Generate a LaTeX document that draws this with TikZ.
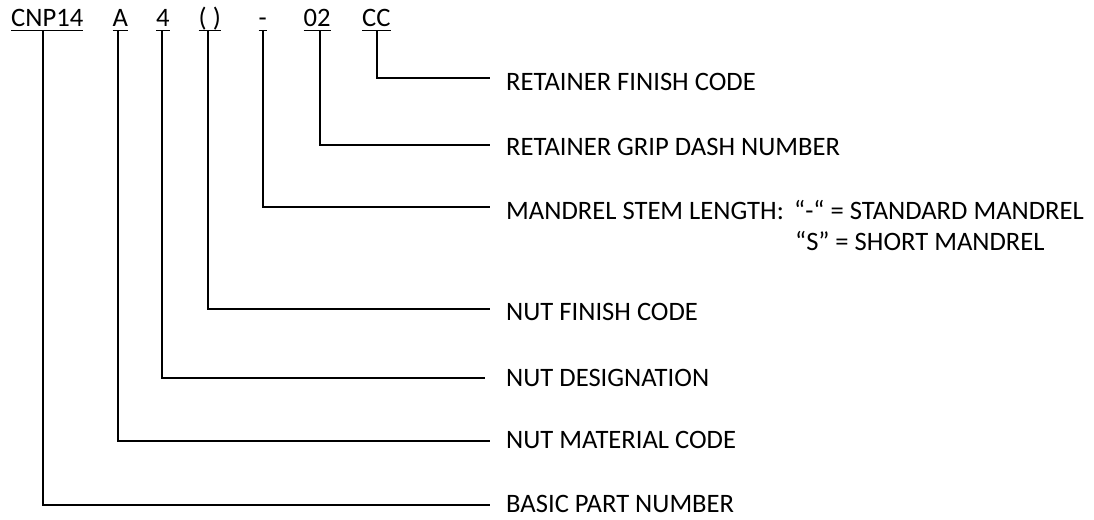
\documentclass[tikz,border=0pt]{standalone}
\usepackage{fontspec}
\setmainfont{Carlito}
\usetikzlibrary{calc}
\begin{document}
\begin{tikzpicture}[x=1pt,y=-1pt,
  txt/.style={anchor=base west,inner sep=0pt,font=\fontsize{26.6}{32}\selectfont},
  code/.style={txt},
  uline/.style={line width=1.5pt},
  leader/.style={line width=1.7pt}]
\useasboundingbox (0,0) rectangle (1094,519);
% part number codes
\node[code] (c1) at (11,26.7) {CNP14};
\node[code] (c2) at (112.5,26.7) {A};
\node[code] (c3) at (156,26.7) {4};
\node[code] (c4) at (198.5,26.7) {( )};
\node[code] (c5) at (258.5,26.7) {-};
\node[code] (c6) at (303.5,26.7) {02};
\node[code] (c7) at (362,26.7) {CC};
\foreach \n in {c1,c2,c3,c4,c5,c6,c7}{
  \draw[uline] ($(\n.base west)+(0,4)$) -- ($(\n.base east)+(0,4)$);
}
% start points of leaders
\coordinate (s1) at (43.3,30.7);
\coordinate (s2) at (118.3,30.7);
\coordinate (s3) at (161.7,30.7);
\coordinate (s4) at (208.3,30.7);
\coordinate (s5) at (263.3,30.7);
\coordinate (s6) at (320,30.7);
\coordinate (s7) at (376.7,30.7);
% end points
\coordinate (e1) at (490,505);
\coordinate (e2) at (490,440.7);
\coordinate (e3) at (485,378.3);
\coordinate (e4) at (490,309.3);
\coordinate (e5) at (490,207.3);
\coordinate (e6) at (490,145);
\coordinate (e7) at (490,78.3);
\foreach \i in {1,...,7}{
  \draw[leader] (s\i) |- (e\i);
}
% labels
\node[txt] (l1) at (506,512.7) {BASIC PART NUMBER};
\node[txt] (l2) at (506,448.3) {NUT MATERIAL CODE};
\node[txt] (l3) at (506,386.7) {NUT DESIGNATION};
\node[txt] (l4) at (506,320.7) {NUT FINISH CODE};
\node[txt] (l5) at (506,219.3) {MANDREL STEM LENGTH:};
\node[txt] (l5a) at (794,219.3) {“-“ = STANDARD MANDREL};
\node[txt] (l5b) at (795,250) {“S” = SHORT MANDREL};
\node[txt] (l6) at (506,155) {RETAINER GRIP DASH NUMBER};
\node[txt] (l7) at (506,90) {RETAINER FINISH CODE};
\end{tikzpicture}
\end{document}
